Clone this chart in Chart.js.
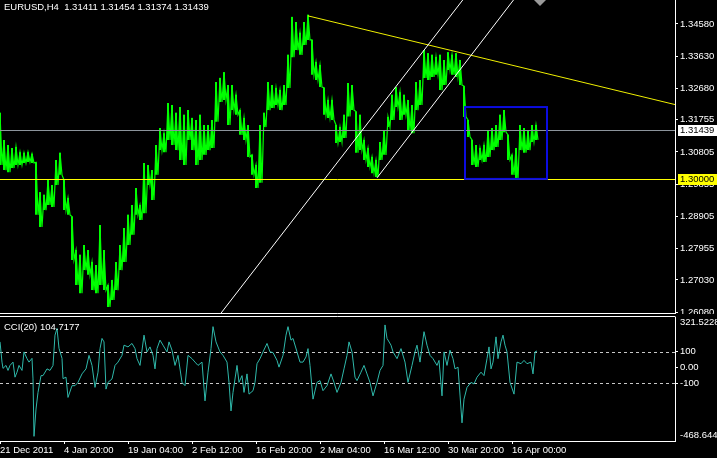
<!DOCTYPE html>
<html>
<head>
<meta charset="utf-8">
<script src="https://cdn.jsdelivr.net/npm/chart.js@4/dist/chart.umd.min.js"></script>
<style>
  html, body { margin: 0; padding: 0; background: #000; overflow: hidden; }
  body { width: 717px; height: 458px; position: relative; }
  canvas { position: absolute; left: 0; }
  #c1 { top: 0; }
  #c2 { top: 314px; }
  .lbl { position: absolute; left: 4px; color: #fff; font: 9.5px "Liberation Sans", Arial, sans-serif; white-space: pre; line-height: 11px; }
</style>
</head>
<body>
<canvas id="c1" width="717" height="314"></canvas>
<canvas id="c2" width="717" height="144"></canvas>
<div class="lbl" id="title" style="top:1px"></div>
<div class="lbl" id="ccititle" style="top:321px"></div>
<script>
// ---------- DATA ----------
const symbolTitle = "EURUSD,H4  1.31411 1.31454 1.31374 1.31439";
const cciTitle = "CCI(20) 104.7177";

// bar index (H4 bars) of each sampled price range
const barIndex = [0,4,8,12,16,20,24,28,32,36,40,44,48,52,56,60,64,68,72,76,80,84,88,92,96,100,104,108,112,116,120,124,128,132,136,140,144,148,152,156,160,164,168,172,176,180,184,188,192,196,200,204,208,212,216,220,224,228,232,236,240,244,248,252,256,260,264,268,272,276,280,284,288,292,296,300,304,308,312,316,320,324,328,332,336,340,344,348,352,356,360,364,368,372,376,380,384,388,392,396,400,404,408,412,416,420,424,428,432,436,440,444,448,452,456,460,464,468,472,476,480,484,488,492,496,500,504,508,512,516,520,524,528,532,536];
const highs = [1.3196,1.3116,1.3101,1.3092,1.3095,1.3080,1.3078,1.3080,1.3075,1.3050,1.2962,1.2954,1.2998,1.2983,1.3057,1.3078,1.2998,1.2945,1.2890,1.2791,1.2777,1.2806,1.2791,1.2756,1.2747,1.2865,1.2791,1.2688,1.2703,1.2756,1.2806,1.2856,1.2895,1.2924,1.2974,1.2924,1.3048,1.3042,1.3027,1.3101,1.3151,1.3136,1.3225,1.3219,1.3196,1.3213,1.3190,1.3204,1.3181,1.3175,1.3190,1.3160,1.3160,1.3175,1.3287,1.3299,1.3316,1.3278,1.3278,1.3249,1.3204,1.3181,1.3160,1.3072,1.3042,1.3160,1.3196,1.3287,1.3278,1.3269,1.3263,1.3278,1.3367,1.3479,1.3464,1.3432,1.3464,1.3485,1.3411,1.3346,1.3337,1.3270,1.3234,1.3234,1.3160,1.3154,1.3190,1.3284,1.3278,1.3200,1.3190,1.3116,1.3092,1.3066,1.3057,1.3110,1.3145,1.3184,1.3249,1.3272,1.3257,1.3249,1.3234,1.3219,1.3287,1.3293,1.3381,1.3372,1.3367,1.3361,1.3367,1.3352,1.3375,1.3367,1.3372,1.3352,1.3275,1.3175,1.3116,1.3101,1.3092,1.3101,1.3145,1.3151,1.3160,1.3190,1.3204,1.3131,1.3072,1.3092,1.3160,1.3151,1.3145,1.3160,1.3160];
const lows = [1.3042,1.3027,1.3021,1.3033,1.3042,1.3042,1.3048,1.3051,1.3048,1.2895,1.2859,1.2909,1.2924,1.2918,1.2983,1.3013,1.2909,1.2895,1.2762,1.2688,1.2664,1.2732,1.2718,1.2673,1.2664,1.2688,1.2673,1.2623,1.2644,1.2673,1.2732,1.2756,1.2806,1.2836,1.2895,1.2880,1.2900,1.2983,1.2939,1.3013,1.3086,1.3080,1.3116,1.3101,1.3086,1.3057,1.3042,1.3116,1.3086,1.3042,1.3057,1.3072,1.3086,1.3092,1.3170,1.3228,1.3234,1.3160,1.3204,1.3190,1.3131,1.3116,1.3066,1.3013,1.2974,1.2990,1.3154,1.3204,1.3210,1.3219,1.3204,1.3219,1.3269,1.3360,1.3381,1.3367,1.3396,1.3411,1.3308,1.3293,1.3272,1.3190,1.3181,1.3175,1.3107,1.3110,1.3122,1.3185,1.3204,1.3078,1.3086,1.3057,1.3036,1.3018,1.3007,1.3057,1.3072,1.3154,1.3175,1.3213,1.3175,1.3190,1.3145,1.3136,1.3204,1.3219,1.3299,1.3293,1.3302,1.3308,1.3263,1.3278,1.3322,1.3308,1.3302,1.3278,1.3184,1.3125,1.3042,1.3036,1.3057,1.3051,1.3066,1.3086,1.3095,1.3116,1.3139,1.3057,1.3013,1.2998,1.3086,1.3078,1.3086,1.3110,1.3116];

const priceTicks = [1.2608, 1.2703, 1.27955, 1.28905, 1.29855, 1.30805, 1.31755, 1.3268, 1.3363, 1.3458];
const priceMin = 1.26025, priceMax = 1.35288;
const lastPrice = 1.31439;
const levelPrice = 1.30000;

// drawn objects (in bar / price units)
const trendLine = [[308, 1.3482], [545, 1.3313]];
const channelLower = [[377, 1.3004], [512, 1.3523]];
const channelUpper = [[221, 1.2605], [462, 1.3526]];
const boxBars = [465, 547];
const boxPrices = [1.3001, 1.3213];
const shiftBar = 540;

// CCI(20)
const cciBar = [0,2,3,6,8,10,13,15,17,19,22,24,27,29,32,33,34,36,38,41,43,47,50,53,55,57,59,62,63,66,68,72,75,78,82,86,89,92,95,98,100,102,104,106,108,112,115,118,122,124,128,132,135,137,140,144,147,150,153,155,157,160,163,167,169,172,175,178,182,185,188,192,195,198,202,205,208,211,213,216,220,223,227,229,231,233,237,239,242,244,247,249,253,255,257,260,263,267,270,273,277,279,283,286,288,291,293,297,300,303,306,308,310,313,317,320,323,327,331,334,337,341,344,347,349,352,355,357,361,364,367,370,373,377,380,383,385,387,391,393,397,401,405,408,412,415,417,420,424,427,430,433,437,439,442,444,447,450,453,455,458,462,464,467,471,474,477,481,484,487,489,491,493,496,498,501,503,505,507,510,514,517,521,524,527,531,533,535,537];
const cciValue = [163,34,-6,13,-19,13,34,-62,-30,13,-19,99,56,34,58,-73,-439,-265,-159,-52,-52,-9,-19,13,206,249,122,58,-71,-62,-191,-116,-116,-95,-41,-9,77,13,-127,-30,120,185,163,-138,-95,-73,13,34,77,142,131,153,120,56,13,206,99,131,77,-9,120,174,142,99,163,110,13,77,-95,-116,77,56,34,13,34,-213,-30,120,260,163,99,77,34,-95,-277,-159,13,-95,-52,-159,-41,-170,-148,-95,24,56,99,153,99,95,45,2,77,206,260,174,185,99,34,34,67,120,13,-202,-95,-84,-148,-116,-41,-95,-159,-95,-9,77,163,99,-62,-84,-30,13,-41,-95,-181,-95,-19,13,271,185,142,99,56,120,34,-95,13,99,142,34,228,142,77,56,13,45,-181,99,13,110,56,-9,2,-353,-202,-127,-95,-105,-62,-30,-52,56,131,-9,34,195,56,163,206,142,99,-95,-170,34,24,45,24,34,-41,99,104.7177];
const cciMax = 321.5228, cciMin = -468.644;
const cciLevels = [100, -100];
const cciTickValues = [-100, 0, 100];

const dateTickBars = [0, 64, 128, 192, 256, 320, 384, 448, 512];
const dateLabels = ['21 Dec 2011','4 Jan 20:00','19 Jan 04:00','2 Feb 12:00','16 Feb 20:00','2 Mar 04:00','16 Mar 12:00','30 Mar 20:00','16 Apr 00:00'];

// ---------- STYLE ----------
const FONT = 'Liberation Sans';
const FS = 9.5;
const GREEN = '#00ff00';
Chart.defaults.font.family = FONT;
Chart.defaults.font.size = FS;
Chart.defaults.color = '#fff';

document.getElementById('title').textContent = symbolTitle;
document.getElementById('ccititle').textContent = cciTitle;

const lastBar = 675;

function zeroPad(s) { s.paddingTop = 0; s.paddingBottom = 0; s.paddingLeft = 0; s.paddingRight = 0; }

function ray(ctx, xs, ys, a, b, area) {
  const x1 = xs.getPixelForValue(a[0]), y1 = ys.getPixelForValue(a[1]);
  const x2 = xs.getPixelForValue(b[0]), y2 = ys.getPixelForValue(b[1]);
  const k = (y2 - y1) / (x2 - x1);
  const xe = area.right + 50;
  ctx.beginPath();
  ctx.moveTo(x1, y1);
  ctx.lineTo(xe, y1 + k * (xe - x1));
  ctx.stroke();
}

const priceObjects = {
  id: 'priceObjects',
  afterDatasetsDraw(chart) {
    const { ctx, chartArea: a, scales: { x, y } } = chart;
    ctx.save();
    ctx.beginPath(); ctx.rect(a.left, a.top, a.right - a.left, a.bottom - a.top); ctx.clip();
    ctx.lineWidth = 1;
    const yl = Math.round(y.getPixelForValue(lastPrice)) + 0.5;
    ctx.strokeStyle = '#8c949c';
    ctx.beginPath(); ctx.moveTo(a.left, yl); ctx.lineTo(a.right, yl); ctx.stroke();
    const yv = Math.round(y.getPixelForValue(levelPrice)) + 0.5;
    ctx.strokeStyle = '#ffff00';
    ctx.beginPath(); ctx.moveTo(a.left, yv); ctx.lineTo(a.right, yv); ctx.stroke();
    ctx.strokeStyle = '#f0f000';
    ray(ctx, x, y, trendLine[0], trendLine[1], a);
    ctx.strokeStyle = '#ffffff';
    ray(ctx, x, y, channelLower[0], channelLower[1], a);
    ray(ctx, x, y, channelUpper[0], channelUpper[1], a);
    ctx.strokeStyle = '#0c0ce0';
    ctx.lineWidth = 2;
    const rx1 = x.getPixelForValue(boxBars[0]), rx2 = x.getPixelForValue(boxBars[1]);
    const ry1 = y.getPixelForValue(boxPrices[1]), ry2 = y.getPixelForValue(boxPrices[0]);
    ctx.strokeRect(rx1, ry1, rx2 - rx1, ry2 - ry1);
    const sx = x.getPixelForValue(shiftBar);
    ctx.fillStyle = '#9a9a9a';
    ctx.beginPath(); ctx.moveTo(sx - 6, a.top); ctx.lineTo(sx + 6, a.top); ctx.lineTo(sx, a.top + 6); ctx.closePath(); ctx.fill();
    ctx.restore();

    ctx.save();
    ctx.strokeStyle = '#fff'; ctx.lineWidth = 1;
    ctx.beginPath(); ctx.moveTo(a.left, a.bottom - 0.5); ctx.lineTo(a.right + 0.5, a.bottom - 0.5); ctx.stroke();
    ctx.font = FS + 'px ' + FONT;
    ctx.textBaseline = 'middle';
    [[lastPrice, '#ffffff'], [levelPrice, '#ffff00']].forEach(([v, bg]) => {
      const py = Math.round(y.getPixelForValue(v));
      ctx.fillStyle = bg;
      ctx.fillRect(a.right + 3, py - 5, 717 - a.right - 3, 11);
      ctx.fillStyle = '#000';
      ctx.fillText(v.toFixed(5), a.right + 5, py + 0.5);
    });
    ctx.restore();
  }
};

// zig-zag through each sampled bar's high and low (gives the jagged look of 1-px bars)
const zigzag = [];
barIndex.forEach((b, i) => { zigzag.push({ x: b, y: highs[i] }); zigzag.push({ x: b + 2, y: lows[i] }); });

new Chart(document.getElementById('c1'), {
  data: {
    datasets: [{
      type: 'bar',
      data: barIndex.map((b, i) => ({ x: b, y: [lows[i], highs[i]] })),
      backgroundColor: GREEN,
      borderWidth: 0,
      barPercentage: 0.5,
      categoryPercentage: 1
    }, {
      type: 'line',
      data: zigzag,
      borderColor: GREEN,
      borderWidth: 1.2,
      pointRadius: 0,
      tension: 0
    }]
  },
  options: {
    responsive: false, animation: false,
    layout: { padding: 0, autoPadding: false },
    plugins: { legend: { display: false }, tooltip: { enabled: false } },
    scales: {
      x: { type: 'linear', min: 0, max: lastBar, display: false, offset: false },
      y: {
        position: 'right', min: priceMin, max: priceMax,
        afterFit(s) { s.width = 42; zeroPad(s); },
        afterBuildTicks(s) { s.ticks = priceTicks.map(v => ({ value: v })); },
        ticks: { color: '#fff', padding: 2, autoSkip: false, callback: v => Number(v).toFixed(5), font: { family: FONT, size: FS } },
        grid: { drawOnChartArea: false, drawTicks: true, tickLength: 3, color: '#fff' },
        border: { display: true, color: '#fff', width: 1 }
      }
    }
  },
  plugins: [priceObjects]
});

const cciObjects = {
  id: 'cciObjects',
  beforeDatasetsDraw(chart) {
    const { ctx, chartArea: a, scales: { y } } = chart;
    ctx.save();
    ctx.strokeStyle = '#c8c8c8'; ctx.lineWidth = 1; ctx.setLineDash([3, 3]);
    cciLevels.forEach(v => {
      const py = Math.round(y.getPixelForValue(v)) + 0.5;
      ctx.beginPath(); ctx.moveTo(a.left, py); ctx.lineTo(a.right, py); ctx.stroke();
    });
    ctx.restore();
  },
  afterDraw(chart) {
    const { ctx, chartArea: a } = chart;
    ctx.save();
    ctx.strokeStyle = '#fff'; ctx.lineWidth = 1;
    ctx.beginPath(); ctx.moveTo(a.left, a.top - 0.5); ctx.lineTo(a.right + 0.5, a.top - 0.5); ctx.stroke();
    ctx.fillStyle = '#fff';
    ctx.font = FS + 'px ' + FONT;
    ctx.textBaseline = 'top';
    ctx.fillText(cciMax.toFixed(4), a.right + 5, a.top + 1);
    ctx.textBaseline = 'bottom';
    ctx.fillText(cciMin.toFixed(3), a.right + 5, a.bottom - 1);
    ctx.restore();
  }
};

new Chart(document.getElementById('c2'), {
  type: 'line',
  data: {
    datasets: [{
      data: cciBar.map((b, i) => ({ x: b, y: cciValue[i] })),
      borderColor: '#2fb8aa',
      borderWidth: 1,
      pointRadius: 0,
      tension: 0,
      fill: false
    }]
  },
  options: {
    responsive: false, animation: false,
    layout: { padding: { top: 3, left: 0, right: 0, bottom: 0 }, autoPadding: false },
    plugins: { legend: { display: false }, tooltip: { enabled: false } },
    scales: {
      x: {
        type: 'linear', min: 0, max: lastBar, position: 'bottom',
        afterFit(s) { s.height = 17; zeroPad(s); },
        afterBuildTicks(s) { s.ticks = dateTickBars.map(v => ({ value: v })); },
        ticks: { color: '#fff', align: 'start', maxRotation: 0, autoSkip: false, padding: 1,
                 callback: v => dateLabels[dateTickBars.indexOf(v)], font: { family: FONT, size: FS } },
        grid: { drawOnChartArea: false, drawTicks: true, tickLength: 3, color: '#fff' },
        border: { display: true, color: '#fff', width: 1 }
      },
      y: {
        position: 'right', min: cciMin, max: cciMax,
        afterFit(s) { s.width = 42; zeroPad(s); },
        afterBuildTicks(s) { s.ticks = cciTickValues.map(v => ({ value: v })); },
        ticks: { color: '#fff', padding: 2, autoSkip: false, callback: v => v === 0 ? '0.00' : String(v), font: { family: FONT, size: FS } },
        grid: { drawOnChartArea: false, drawTicks: true, tickLength: 3, color: '#fff' },
        border: { display: true, color: '#fff', width: 1 }
      }
    }
  },
  plugins: [cciObjects]
});
</script>
</body>
</html>
